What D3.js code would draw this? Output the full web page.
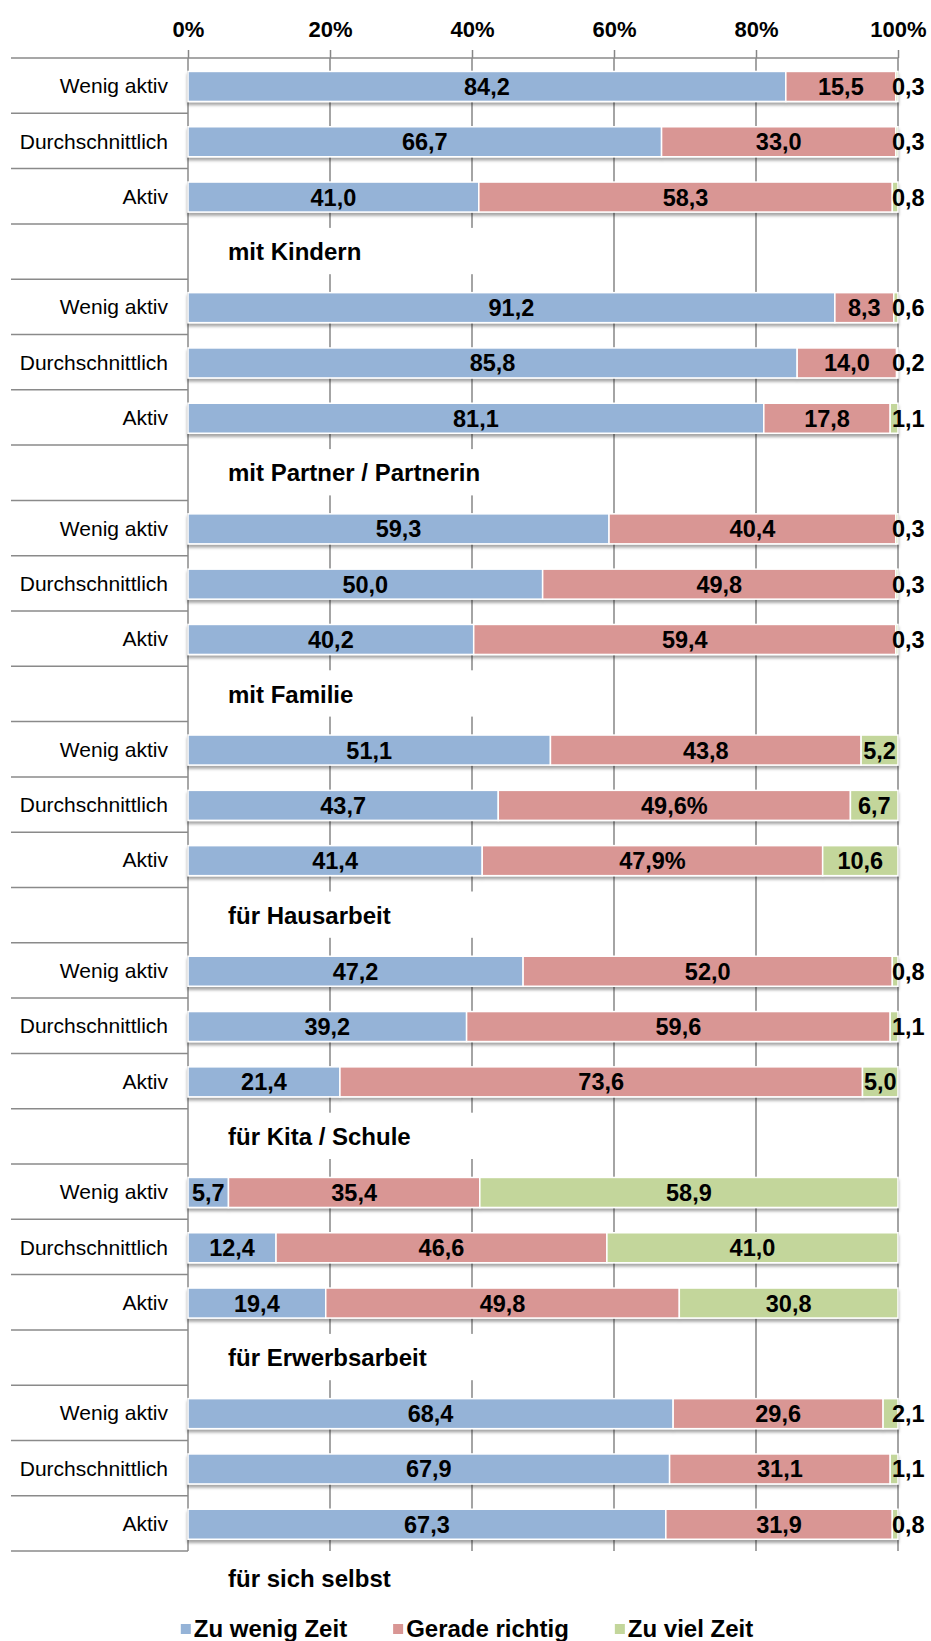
<!DOCTYPE html>
<html>
<head>
<meta charset="utf-8">
<script src="https://cdn.jsdelivr.net/npm/d3@7"></script>
<style>
  body { margin: 0; background: #fff; }
  text { font-family: "Liberation Sans", Arial, sans-serif; }
</style>
</head>
<body>
<div id="chart-area"></div>
<script>

// Data
var groups = ["mit Kindern", "mit Partner / Partnerin", "mit Familie", "für Hausarbeit",
              "für Kita / Schule", "für Erwerbsarbeit", "für sich selbst"];
var levels = ["Wenig aktiv", "Durchschnittlich", "Aktiv"];
var seriesNames = ["Zu wenig Zeit", "Gerade richtig", "Zu viel Zeit"];

var zuWenig = [84.2, 66.7, 41.0, 91.2, 85.8, 81.1, 59.3, 50.0, 40.2, 51.1, 43.7, 41.4,
               47.2, 39.2, 21.4, 5.7, 12.4, 19.4, 68.4, 67.9, 67.3];
var geradeRichtig = [15.5, 33.0, 58.3, 8.3, 14.0, 17.8, 40.4, 49.8, 59.4, 43.8, 49.6, 47.9,
                     52.0, 59.6, 73.6, 35.4, 46.6, 49.8, 29.6, 31.1, 31.9];
var zuViel = [0.3, 0.3, 0.8, 0.6, 0.2, 1.1, 0.3, 0.3, 0.3, 5.2, 6.7, 10.6,
              0.8, 1.1, 5.0, 58.9, 41.0, 30.8, 2.1, 1.1, 0.8];

// these two labels carry a percent sign in the original
var percentLabels = ["für Hausarbeit|Durchschnittlich", "für Hausarbeit|Aktiv"];

var ticks = [0, 0.2, 0.4, 0.6, 0.8, 1];
var colors = ["#95b3d7", "#d99694", "#c3d69b"];

// SVG drawing area
var W = 931, H = 1641;
var margin = {top: 58, left: 188};
var width = 710;
var rowH = 55.3;

var svg = d3.select("#chart-area").append("svg")
    .attr("width", W)
    .attr("height", H);

var defs = svg.append("defs");
var shadow = defs.append("filter").attr("id", "shadow")
    .attr("x", "-2%").attr("y", "-30%").attr("width", "104%").attr("height", "180%");
shadow.append("feDropShadow")
    .attr("dx", 0).attr("dy", 3).attr("stdDeviation", 1.6)
    .attr("flood-color", "#000").attr("flood-opacity", 0.35);

// rows: 3 bars per group, then a row for the group label
var rows = [];
groups.forEach(function(g, gi) {
  levels.forEach(function(l, li) {
    var i = gi * 3 + li;
    rows.push({key: g + "|" + l, group: g, level: l, type: "bar",
      "Zu wenig Zeit": zuWenig[i], "Gerade richtig": geradeRichtig[i], "Zu viel Zeit": zuViel[i]});
  });
  rows.push({key: g, group: g, type: "label"});
});

var y = d3.scaleBand()
    .domain(rows.map(function(d) { return d.key; }))
    .range([margin.top, margin.top + rows.length * rowH])
    .padding(0);

var x = d3.scaleLinear()
    .domain([0, 1])
    .range([margin.left, margin.left + width]);

var plotBottom = margin.top + (rows.length - 1) * rowH;

var barRows = rows.filter(function(d) { return d.type === "bar"; });
var stack = d3.stack().keys(seriesNames).offset(d3.stackOffsetExpand);
var stacked = stack(barRows);

// Gridlines
svg.append("g").selectAll("line")
    .data(ticks.slice(1))
    .enter().append("line")
    .attr("x1", function(d) { return x(d); })
    .attr("x2", function(d) { return x(d); })
    .attr("y1", margin.top)
    .attr("y2", plotBottom)
    .attr("stroke", "#868686")
    .attr("stroke-width", 1.5);

// Top axis
var xAxis = d3.axisTop(x).tickValues(ticks).tickSize(8).tickFormat(d3.format(".0%"));
var xAxisGroup = svg.append("g")
    .attr("transform", "translate(0," + margin.top + ")")
    .call(xAxis);
xAxisGroup.select(".domain").remove();
xAxisGroup.selectAll(".tick line").attr("stroke", "#868686").attr("stroke-width", 1.5);
xAxisGroup.selectAll(".tick text")
    .attr("y", -21)
    .attr("font-size", 22)
    .attr("font-weight", "bold")
    .attr("font-family", "Liberation Sans, Arial, sans-serif")
    .attr("fill", "#000");

// separators on the left, one at each row boundary
var boundaries = d3.range(rows.length);
svg.append("g").selectAll("line")
    .data(boundaries)
    .enter().append("line")
    .attr("x1", 11)
    .attr("x2", function(d) { return d === 0 ? x(1) : margin.left; })
    .attr("y1", function(d) { return margin.top + d * rowH; })
    .attr("y2", function(d) { return margin.top + d * rowH; })
    .attr("stroke", "#8a8a8a")
    .attr("stroke-width", 1.5);

// left axis line
svg.append("line")
    .attr("x1", margin.left).attr("x2", margin.left)
    .attr("y1", margin.top).attr("y2", plotBottom)
    .attr("stroke", "#8a8a8a")
    .attr("stroke-width", 1.5);

// Group labels (white box hides the gridlines behind them)
var labelRows = rows.filter(function(d) { return d.type === "label"; });
var lab = svg.append("g").selectAll("g")
    .data(labelRows)
    .enter().append("g");
lab.append("text")
    .attr("x", 228)
    .attr("y", function(d) { return y(d.key) + y.bandwidth() / 2; })
    .attr("dy", "0.36em")
    .attr("font-size", 24)
    .attr("font-weight", "bold")
    .text(function(d) { return d.group; });
lab.each(function(d, i) {
  if (i === labelRows.length - 1) return;
  var bb = d3.select(this).select("text").node().getBBox();
  d3.select(this).insert("rect", "text")
    .attr("x", margin.left + 1)
    .attr("y", y(d.key) + 4)
    .attr("width", bb.x + bb.width + 125 - margin.left)
    .attr("height", y.bandwidth() - 9)
    .attr("fill", "#fff");
});

// Row labels
svg.append("g").selectAll("text")
    .data(barRows)
    .enter().append("text")
    .attr("x", 168)
    .attr("y", function(d) { return y(d.key) + y.bandwidth() / 2; })
    .attr("dy", "0.36em")
    .attr("text-anchor", "end")
    .attr("font-size", 21)
    .text(function(d) { return d.level; });

// Bars
var barH = 30;
var barOff = (y.bandwidth() - barH) / 2 + 0.8;

var rowG = svg.append("g").selectAll("g")
    .data(barRows)
    .enter().append("g")
    .attr("filter", "url(#shadow)");

rowG.selectAll("rect")
    .data(function(d, i) {
      return stacked.map(function(s, si) { return {row: d, seg: s[i], si: si}; });
    })
    .enter().append("rect")
    .attr("x", function(d) { return x(d.seg[0]); })
    .attr("y", function(d) { return y(d.row.key) + barOff; })
    .attr("width", function(d) { return x(d.seg[1]) - x(d.seg[0]); })
    .attr("height", barH)
    .attr("fill", function(d) { return colors[d.si]; })
    .attr("stroke", "#fff")
    .attr("stroke-width", 1.5);

// Data labels
var fmt = function(v) { return d3.format(".1f")(v).replace(".", ","); };
var labels = [];
stacked.forEach(function(s, si) {
  s.forEach(function(seg, i) {
    var r = barRows[i];
    var v = r[seriesNames[si]];
    var txt = fmt(v);
    if (si === 1 && percentLabels.indexOf(r.key) >= 0) txt += "%";
    var small = v < 3;
    labels.push({
      x: small ? x(1) - 6 : (x(seg[0]) + x(seg[1])) / 2,
      anchor: small ? "start" : "middle",
      y: y(r.key) + barOff + barH / 2,
      text: txt
    });
  });
});

svg.append("g").selectAll("text")
    .data(labels)
    .enter().append("text")
    .attr("x", function(d) { return d.x; })
    .attr("y", function(d) { return d.y; })
    .attr("dy", "0.36em")
    .attr("text-anchor", function(d) { return d.anchor; })
    .attr("font-size", 23.5)
    .attr("font-weight", "bold")
    .text(function(d) { return d.text; });

// Legend
var legend = svg.append("g");
var lx = 0, gap = 46;
seriesNames.forEach(function(name, i) {
  var item = legend.append("g").attr("transform", "translate(" + lx + ",0)");
  item.append("rect")
      .attr("x", 0).attr("y", -4)
      .attr("width", 10).attr("height", 10)
      .attr("fill", colors[i]);
  var t = item.append("text")
      .attr("x", 13)
      .attr("y", 0)
      .attr("dy", "0.36em")
      .attr("font-size", 24)
      .attr("font-weight", "bold")
      .text(name);
  lx += 13 + t.node().getComputedTextLength() + gap;
});
lx -= gap;
legend.attr("transform", "translate(" + (467 - lx / 2) + ",1628)");

</script>
</body>
</html>
